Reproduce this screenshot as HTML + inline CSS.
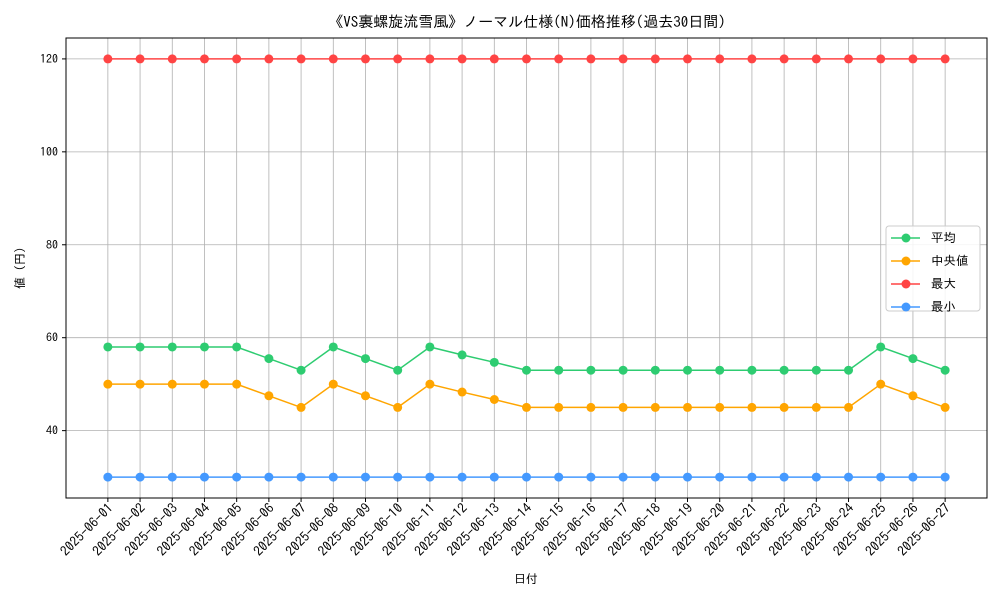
<!DOCTYPE html>
<html><head><meta charset="utf-8">
<style>
body{margin:0;background:#fff;}
svg text{font-family:"IPAGothic","Noto Sans CJK JP",sans-serif;fill:#000;}
</style></head>
<body>
<svg id="chart" width="1000" height="600" xmlns="http://www.w3.org/2000/svg">
<rect width="1000" height="600" fill="#fff"/>
<g id="grid"></g>
<g id="series"></g>
<rect x="66" y="38" width="921" height="460" fill="none" stroke="#000" stroke-width="1"/>
<g id="axes"></g>
<text x="527" y="27" text-anchor="middle" font-size="15">《VS裏螺旋流雪風》ノーマル仕様(N)価格推移(過去30日間)</text>
<text x="526" y="583" text-anchor="middle" font-size="12">日付</text>
<text transform="translate(24,268) rotate(-90)" text-anchor="middle" font-size="12">値 (円)</text>
<g id="legend">
<rect x="886" y="226" width="94" height="85" rx="3" fill="#fff" fill-opacity="0.85" stroke="#ccc"/>
</g>
</svg>
<script>
const dates=["2025-06-01","2025-06-02","2025-06-03","2025-06-04","2025-06-05","2025-06-06","2025-06-07","2025-06-08","2025-06-09","2025-06-10","2025-06-11","2025-06-12","2025-06-13","2025-06-14","2025-06-15","2025-06-16","2025-06-17","2025-06-18","2025-06-19","2025-06-20","2025-06-21","2025-06-22","2025-06-23","2025-06-24","2025-06-25","2025-06-26","2025-06-27"];
const avgValues=[58,58,58,58,58,55.5,53,58,55.5,53,58,56.3,54.7,53,53,53,53,53,53,53,53,53,53,53,58,55.5,53];
const medianValues=[50,50,50,50,50,47.5,45,50,47.5,45,50,48.3,46.7,45,45,45,45,45,45,45,45,45,45,45,50,47.5,45];
const maxValues=[120,120,120,120,120,120,120,120,120,120,120,120,120,120,120,120,120,120,120,120,120,120,120,120,120,120,120];
const minValues=[30,30,30,30,30,30,30,30,30,30,30,30,30,30,30,30,30,30,30,30,30,30,30,30,30,30,30];
const yTicks=[40,60,80,100,120];
const seriesNames=["平均","中央値","最大","最小"];
const NS="http://www.w3.org/2000/svg";
const L=66,R=987,T=38,B=498;
const n=dates.length;
const allV=[...avgValues,...medianValues,...maxValues,...minValues];
const vmin=Math.min(...allV),vmax=Math.max(...allV),pad=(vmax-vmin)*0.05;
const y0=vmin-pad,y1=vmax+pad;
const xpad=(n-1)*0.05;
const xs=i=>L+(i+xpad)/(n-1+2*xpad)*(R-L);
const ys=v=>B-(v-y0)/(y1-y0)*(B-T);
function mk(tag,attrs,parent){const e=document.createElementNS(NS,tag);for(const k in attrs)e.setAttribute(k,attrs[k]);parent.appendChild(e);return e;}
const grid=document.getElementById('grid'),axes=document.getElementById('axes'),ser=document.getElementById('series');
dates.forEach((d,i)=>{const x=xs(i);
 const g=mk('line',{x1:x,x2:x,y1:T,y2:B,stroke:'#b0b0b0','stroke-width':0.8},grid);
 
 mk('line',{x1:x,x2:x,y1:B,y2:B+4,stroke:'#000'},axes);
 const t=mk('text',{transform:`translate(${x+6},${B+11}) rotate(-45)`,'text-anchor':'end','font-size':13.5},axes);
 t.textContent=d;
});
yTicks.forEach(v=>{const y=ys(v);
 const g=mk('line',{x1:L,x2:R,y1:y,y2:y,stroke:'#b0b0b0','stroke-width':0.8},grid);
 
 mk('line',{x1:L-4,x2:L,y1:y,y2:y,stroke:'#000'},axes);
 const t=mk('text',{x:L-8,y:y+4,'text-anchor':'end','font-size':12},axes);
 t.textContent=v;
});
const all=[avgValues,medianValues,maxValues,minValues];
const colors=["#2ecc71","#ffa500","#ff4444","#4499ff"];
const keys=["avg","median","max","min"];
all.forEach((vals,s)=>{
 const g=mk('g',{},ser);
 
 const p=mk('polyline',{points:vals.map((v,i)=>xs(i)+','+ys(v)).join(' '),fill:'none',stroke:colors[s],'stroke-width':1.5},g);
 
 vals.forEach((v,i)=>{const c=mk('circle',{cx:xs(i),cy:ys(v),r:4.5,fill:colors[s]},g);
  });
});
const lg=document.getElementById('legend');
seriesNames.forEach((nm,s)=>{const y=238+s*23;
 const e=mk('g',{},lg);
 
 mk('line',{x1:891,x2:920,y1:y,y2:y,stroke:colors[s],'stroke-width':1.5},e);
 mk('circle',{cx:906,cy:y,r:4.5,fill:colors[s]},e);
 const t=mk('text',{x:931,y:y+4,'font-size':12.5},e);t.textContent=nm;
});
</script>
</body></html>
